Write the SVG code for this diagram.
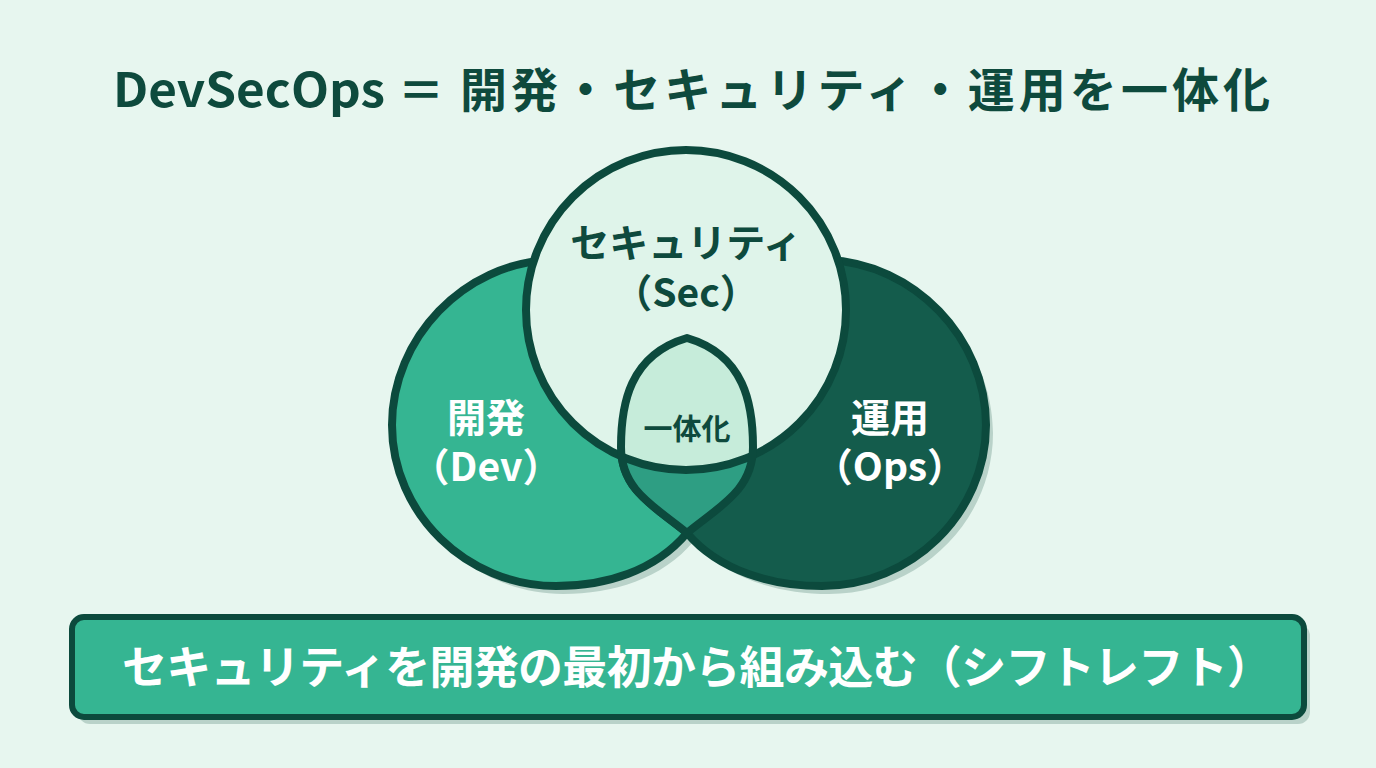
<svg xmlns="http://www.w3.org/2000/svg" width="1376" height="768" viewBox="0 0 1376 768">
<defs>
<style>
.ol{stroke:#0c4a3d;stroke-width:8;stroke-linejoin:round}
.sh{fill:#b9d2c9}
.jp{font-family:"Noto Sans CJK JP","Noto Sans",sans-serif;font-weight:700}
.dark{fill:#0e4a3d}
.white{fill:#ffffff}
</style>
<path id="devShape" d="M687,533 C720,506 753,490 753,447 C753,405 745,355 687,338 L551,260 C464,263 392,338 392,425 C392,514 467,586 556,586 C606,586 655,571 687,533 Z"/>
<path id="opsShape" d="M687,533 C654,506 621,490 621,447 C621,405 629,355 687,338 L827,260 C914,263 986,338 986,425 C986,514 911,586 822,586 C772,586 719,571 687,533 Z"/>
<path id="lensShape" d="M687,533 C720,506 753,490 753,447 C753,405 745,355 687,338 C629,355 621,405 621,447 C621,490 654,506 687,533 Z"/>
<clipPath id="secClip"><circle cx="686" cy="310" r="160"/></clipPath>
<clipPath id="lensClip"><path d="M687,533 C720,506 753,490 753,447 C753,405 745,355 687,338 C629,355 621,405 621,447 C621,490 654,506 687,533 Z"/></clipPath>
</defs>
<rect x="0" y="0" width="1376" height="768" fill="#e7f6ef"/>

<g id="title">
<text class="jp dark" x="113" y="107" font-size="47" textLength="272" lengthAdjust="spacingAndGlyphs">DevSecOps</text>
<text class="jp dark" x="421" y="107" font-size="46" text-anchor="middle">＝</text>
<text class="jp dark" x="460" y="107" font-size="47" textLength="810" lengthAdjust="spacing">開発・セキュリティ・運用を一体化</text>
</g>

<g id="shadows">
<use href="#devShape" class="sh" transform="translate(7,8)"/>
<use href="#opsShape" class="sh" transform="translate(7,8)"/>
<circle cx="692" cy="316" r="160" class="sh"/>
</g>

<g id="node-dev">
<use href="#devShape" fill="#35b592" class="ol"/>
</g>
<g id="node-ops">
<use href="#opsShape" fill="#145c4c" class="ol"/>
</g>
<g id="node-sec">
<circle cx="686" cy="310" r="160" fill="#dff4ea" class="ol"/>
</g>
<g id="node-lens">
<use href="#lensShape" fill="#2e9e83"/>
<use href="#lensShape" fill="#c6ecda" clip-path="url(#secClip)"/>
<circle cx="686" cy="310" r="160" fill="none" class="ol" clip-path="url(#lensClip)"/>
<use href="#lensShape" fill="none" class="ol" stroke-width="7"/>
<text class="jp dark" x="687" y="440" font-size="29" text-anchor="middle">一体化</text>
</g>

<g id="labels">
<text class="jp dark" x="686" y="257" font-size="39" text-anchor="middle">セキュリティ</text>
<text class="jp dark" x="686" y="307" font-size="39" text-anchor="middle">（Sec）</text>
<text class="jp white" x="486" y="432" font-size="39" text-anchor="middle">開発</text>
<text class="jp white" x="486" y="481" font-size="39" text-anchor="middle">（Dev）</text>
<text class="jp white" x="890" y="432" font-size="39" text-anchor="middle">運用</text>
<text class="jp white" x="890" y="481" font-size="39" text-anchor="middle">（Ops）</text>
</g>

<g id="connectors"></g>

<g id="banner">
<rect x="78" y="624" width="1232" height="100" rx="12" class="sh"/>
<rect x="72" y="617" width="1232" height="100" rx="12" fill="#35b592" stroke="#0c4a3d" stroke-width="6"/>
<text class="jp white" x="697" y="684" font-size="45" text-anchor="middle" textLength="1150" lengthAdjust="spacing">セキュリティを開発の最初から組み込む（シフトレフト）</text>
</g>
</svg>
